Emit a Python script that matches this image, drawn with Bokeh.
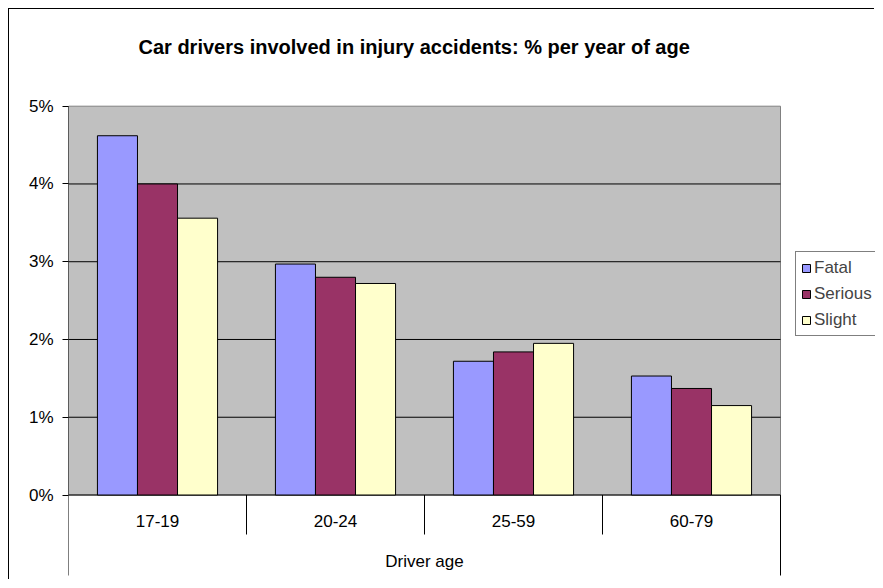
from bokeh.plotting import figure
from bokeh.models import FixedTicker, Legend, LegendItem, Range1d
from bokeh.core.properties import value
from bokeh.embed import file_html
from bokeh.resources import INLINE

# ---- data ----
categories = ["17-19", "20-24", "25-59", "60-79"]
series = ["Fatal", "Serious", "Slight"]
fatal = [4.62, 2.97, 1.72, 1.53]
serious = [4.00, 2.80, 1.84, 1.37]
slight = [3.56, 2.72, 1.95, 1.15]
y_ticks = [0, 1, 2, 3, 4, 5]
y_tick_labels = ["0%", "1%", "2%", "3%", "4%", "5%"]
title_text = "Car drivers involved in injury accidents: % per year of age"
x_title = "Driver age"

# ---- style / layout ----
colors = ["#9999FF", "#993366", "#FFFFCC"]
FONT = "Liberation Sans"
n = len(categories)
y_max = y_ticks[-1]
bar_w = 0.225
W, H = 866, 571
LEFT = 59
px_x = 178.0      # pixels per category
px_y = 77.76      # pixels per 1 %
top_px = 96.7     # canvas y of the 5 % line
x_end = (W - LEFT) / px_x
y_end = y_max + top_px / px_y
y_start = y_max - (H - top_px) / px_y
line_bottom = y_max - (566 - top_px) / px_y
sep_len = -0.508

p = figure(width=W, height=H,
           x_range=Range1d(0, x_end), y_range=Range1d(y_start, y_end),
           output_backend="svg", toolbar_location=None, x_axis_location=None,
           min_border_left=LEFT, min_border_right=0, min_border_top=0, min_border_bottom=0,
           background_fill_color="white", border_fill_color="white", outline_line_color=None)
p.title.visible = False
p.styles = {"margin-left": "8px", "margin-top": "8px",
            "border-left": "1px solid black", "border-top": "1px solid black"}
for g in p.xgrid:
    g.visible = False
for g in p.ygrid:
    g.visible = False

# plot area background
p.quad(left=[0], right=[n], bottom=[0], top=[y_max], fill_color="#C0C0C0",
       line_color="#808080", line_width=1, level="image")

# horizontal gridlines across the plot area
grid_y = y_ticks[:-1]
p.segment(x0=[0] * len(grid_y), y0=grid_y, x1=[n] * len(grid_y), y1=grid_y,
          line_color="black", line_width=1, level="underlay")

# bars
data = [fatal, serious, slight]
renderers = []
for i, (name, vals) in enumerate(zip(series, data)):
    xs = [j + 0.5 + (i - 1) * bar_w for j in range(n)]
    r = p.vbar(x=xs, top=vals, bottom=0, width=bar_w, fill_color=colors[i],
               line_color="black", line_width=1)
    renderers.append(r)

# value axis line, category separators and outer lines
sep_x = [0] + list(range(1, n)) + [n]
sep_top = [y_max] + [0] * n
sep_bottom = [line_bottom] + [sep_len] * (n - 1) + [line_bottom]
p.segment(x0=sep_x, y0=sep_top, x1=sep_x, y1=sep_bottom,
          line_color="black", line_width=1)

# category labels and axis title
p.text(x=[j + 0.5 for j in range(n)], y=[-0.337] * n, text=categories,
       text_align="center", text_baseline="middle", text_font=value(FONT),
       text_font_size="17px", text_color="black")
p.text(x=[n / 2], y=[-0.855], text=[x_title], text_align="center",
       text_baseline="middle", text_font=value(FONT), text_font_size="17px",
       text_color="black")

# chart title
p.text(x=[70 / px_x], y=[y_max + (top_px - 37) / px_y], text=[title_text],
       text_align="left", text_baseline="middle", text_font=value(FONT),
       text_font_size="20px", text_font_style="bold", text_color="black")

# y axis (ticks and labels)
ax = p.yaxis[0]
ax.ticker = FixedTicker(ticks=y_ticks)
ax.major_label_overrides = {t: l for t, l in zip(y_ticks, y_tick_labels)}
ax.minor_tick_line_color = None
ax.major_tick_in = 0
ax.major_tick_out = 6
ax.major_tick_line_color = "black"
ax.axis_line_color = None
ax.major_label_text_font = FONT
ax.major_label_text_font_size = "17px"
ax.major_label_text_color = "black"
ax.major_label_standoff = 9

# legend
legend = Legend(items=[LegendItem(label=s, renderers=[r]) for s, r in zip(series, renderers)],
                location=(727, 244), margin=0, padding=5, spacing=5,
                label_height=21, glyph_height=10, glyph_width=10, label_standoff=3,
                label_text_font=FONT, label_text_font_size="17px",
                border_line_color="black", border_line_width=1,
                background_fill_color="white", background_fill_alpha=1.0)
p.add_layout(legend)

open("out.html", "w").write(file_html(p, INLINE))
